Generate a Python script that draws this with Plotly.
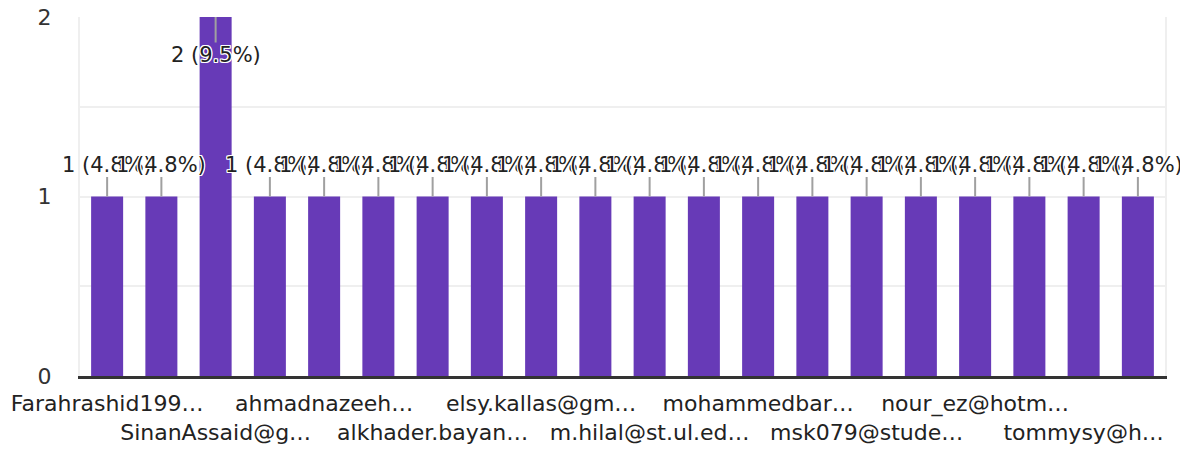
import plotly.graph_objects as go

# Data
values = [1, 1, 2, 1, 1, 1, 1, 1, 1, 1, 1, 1, 1, 1, 1, 1, 1, 1, 1, 1]
positions = list(range(len(values)))
tick_positions = [0, 2, 4, 6, 8, 10, 12, 14, 16, 18]
tick_labels = [
    "Farahrashid199…", "SinanAssaid@g…", "ahmadnazeeh…", "alkhader.bayan…",
    "elsy.kallas@gm…", "m.hilal@st.ul.ed…", "mohammedbar…", "msk079@stude…",
    "nour_ez@hotm…", "tommysy@h…",
]

total = sum(values)
FONT = "DejaVu Sans"
PURPLE = "#673AB7"
GRID = "#efefef"

fig = go.Figure()
fig.add_trace(go.Bar(
    x=positions, y=values, marker=dict(color=PURPLE, line=dict(width=0)),
    hoverinfo="skip",
))

halo = ("white 1px 1px 0, white -1px -1px 0, white 1px -1px 0, white -1px 1px 0, "
        "white 0 1px 0, white 0 -1px 0, white 1px 0 0, white -1px 0 0")

annotations = []
ymax = max(values)
for x, v in zip(positions, values):
    pct = v / total * 100
    annotations.append(dict(
        x=x, y=v, xref="x", yref="y",
        text=f"{v} ({pct:.1f}%)",
        showarrow=True, arrowhead=0, arrowwidth=2, arrowcolor="#a0a0a0",
        ax=0, ay=(38 if v == ymax else -32),
        font=dict(family=FONT, size=21, color="#222222", shadow=halo),
        borderpad=0,
    ))

ticktext = [t if i % 2 == 0 else "<br>" + t for i, t in enumerate(tick_labels)]

fig.update_layout(
    width=1180, height=454,
    margin=dict(l=80, r=15, t=17, b=78, autoexpand=False),
    paper_bgcolor="white", plot_bgcolor="white",
    bargap=0.41,
    showlegend=False,
    annotations=annotations,
    font=dict(family=FONT, color="#222222"),
    xaxis=dict(
        range=[-0.5, len(values) - 0.5],
        tickmode="array", tickvals=tick_positions, ticktext=ticktext,
        tickfont=dict(family=FONT, size=22, color="#222222"),
        tickangle=0, automargin=False,
        showgrid=False, zeroline=False,
        showline=True, linecolor="#333333", linewidth=3,
        ticks="", ticklabelstandoff=6,
    ),
    yaxis=dict(
        range=[0, 2], tickmode="array", tickvals=[0, 1, 2],
        tickfont=dict(family=FONT, size=22, color="#333333"),
        automargin=False,
        showgrid=True, gridcolor=GRID, gridwidth=2,
        minor=dict(dtick=0.5, showgrid=True, gridcolor=GRID, gridwidth=2),
        zeroline=False,
        showline=True, linecolor=GRID, linewidth=2, mirror=True,
        ticks="", ticklabelstandoff=22,
    ),
)

fig.write_html(
    "out.html",
    config={"displayModeBar": False},
    post_script="document.body.style.margin='0';document.body.style.padding='0';",
)
